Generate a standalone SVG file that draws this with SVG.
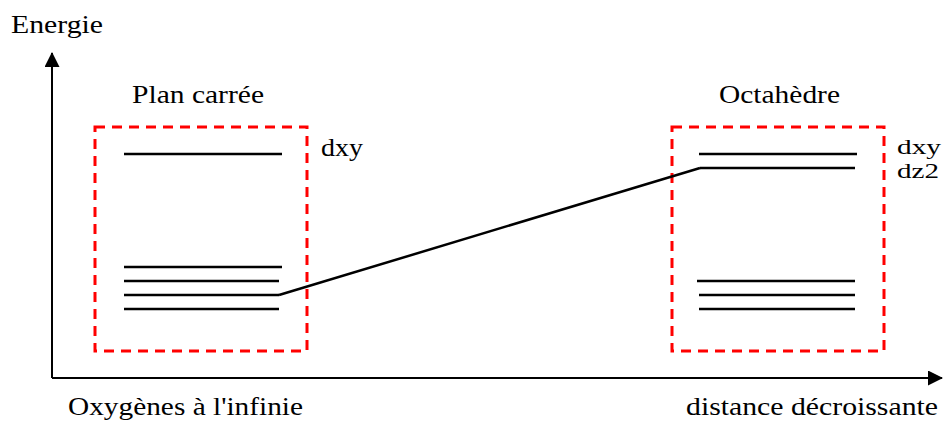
<svg xmlns="http://www.w3.org/2000/svg" width="943" height="421" viewBox="0 0 943 421">
<style>
.t{font-family:"Liberation Serif","DejaVu Serif","Times New Roman",serif;font-size:26px;fill:#000}
.s{font-size:22px}
.lvl{stroke:#000;stroke-width:2.5;fill:none}
.box{stroke:#f00;stroke-width:3;fill:none;stroke-dasharray:10,7}
.ax{stroke:#000;stroke-width:2;fill:none}
</style>
<defs>
<marker id="ah" markerWidth="15" markerHeight="15" refX="14" refY="7.5" orient="auto" markerUnits="userSpaceOnUse">
<path d="M0,0 L15,7.5 L0,15 z" fill="#000"/>
</marker>
</defs>
<g id="axes">
<path class="ax" d="M52,378 L52,53" marker-end="url(#ah)"/>
<path class="ax" d="M52,378 L942,378" marker-end="url(#ah)"/>
<text class="t" x="11" y="33" textLength="92" lengthAdjust="spacingAndGlyphs">Energie</text>
<text class="t" x="68" y="415" textLength="235" lengthAdjust="spacingAndGlyphs">Oxygènes à l'infinie</text>
<text class="t" x="686" y="415" textLength="252" lengthAdjust="spacingAndGlyphs">distance décroissante</text>
</g>
<g id="plan-carree">
<rect class="box" x="95" y="127" width="212" height="224"/>
<text class="t" x="132" y="103" textLength="132" lengthAdjust="spacingAndGlyphs">Plan carrée</text>
<line class="lvl" x1="124" y1="154" x2="282" y2="154"/>
<line class="lvl" x1="124" y1="267" x2="282" y2="267"/>
<line class="lvl" x1="124" y1="281" x2="279" y2="281"/>
<line class="lvl" x1="124" y1="295" x2="279" y2="295"/>
<line class="lvl" x1="124" y1="309" x2="279" y2="309"/>
<text class="t" x="321" y="156" textLength="42" lengthAdjust="spacingAndGlyphs">dxy</text>
</g>
<g id="octaedre">
<rect class="box" x="672" y="127" width="212" height="224"/>
<text class="t" x="719" y="103" textLength="121" lengthAdjust="spacingAndGlyphs">Octahèdre</text>
<line class="lvl" x1="699" y1="154" x2="857" y2="154"/>
<line class="lvl" x1="700" y1="168" x2="855" y2="168"/>
<line class="lvl" x1="697" y1="281" x2="855" y2="281"/>
<line class="lvl" x1="699" y1="295" x2="855" y2="295"/>
<line class="lvl" x1="699" y1="309" x2="855" y2="309"/>
<text class="t s" x="897" y="154" textLength="44" lengthAdjust="spacingAndGlyphs">dxy</text>
<text class="t s" x="897" y="178" textLength="42" lengthAdjust="spacingAndGlyphs">dz2</text>
</g>
<g id="connectors">
<line class="lvl" x1="279" y1="295" x2="700" y2="168"/>
</g>
</svg>
